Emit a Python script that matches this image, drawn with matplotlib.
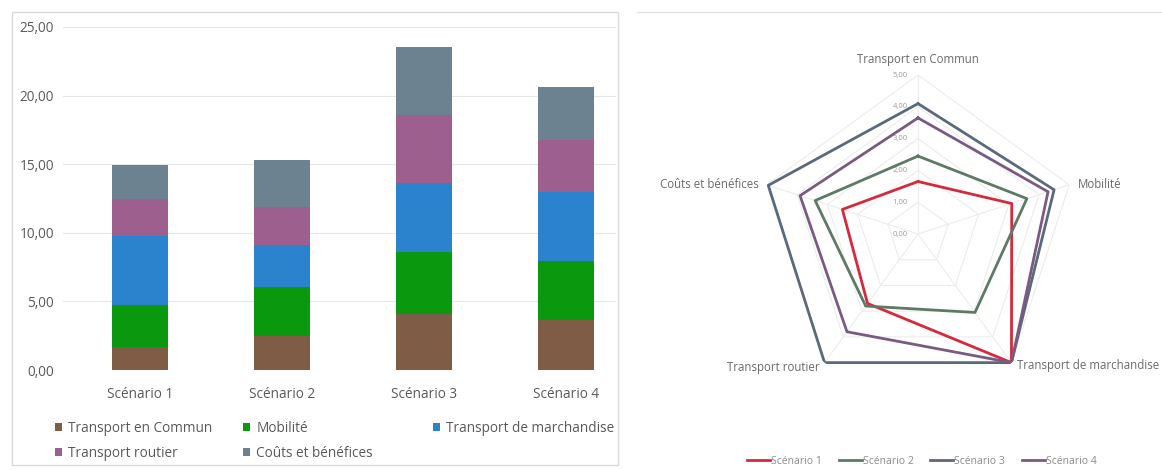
import matplotlib
matplotlib.use("Agg")
import matplotlib.pyplot as plt
import numpy as np
from matplotlib.patches import Rectangle
from matplotlib.lines import Line2D
from matplotlib.ticker import FuncFormatter

plt.rcParams['font.family'] = ['Open Sans', 'DejaVu Sans']

scenarios = ["Scénario 1", "Scénario 2", "Scénario 3", "Scénario 4"]
criteria = ["Transport en Commun", "Mobilité", "Transport de marchandise",
            "Transport routier", "Coûts et bénéfices"]
transport_commun = [1.65, 2.45, 4.10, 3.65]
mobilite = [3.10, 3.60, 4.50, 4.30]
marchandise = [5.00, 3.05, 5.00, 5.00]
routier = [2.70, 2.80, 5.00, 3.80]
couts = [2.50, 3.40, 4.95, 3.90]
y_ticks = [0, 5, 10, 15, 20, 25]
radar_ticks = [0, 1, 2, 3, 4, 5]

bar_colors = ["#7e5c45", "#0a980f", "#2a83cc", "#9c5f8e", "#6c8290"]
radar_colors = ["#d42a3c", "#5d7a66", "#5a6a7a", "#7a5a82"]
text_color = "#595959"

W, H = 1162, 470
fig = plt.figure(figsize=(W / 100, H / 100), dpi=100)


def fx(px):
    return px / W


def fy(py):
    return 1 - py / H


# chart frames
fig.add_artist(Rectangle((fx(12), fy(465)), fx(618) - fx(12), fy(12) - fy(465),
                         transform=fig.transFigure, fill=False,
                         edgecolor="#dadada", lw=1))
fig.add_artist(Line2D([fx(637), 1], [fy(12), fy(12)], transform=fig.transFigure,
                      color="#e3e3e3", lw=1))

# ---------------- stacked bar chart ----------------
ax = fig.add_axes([fx(63), fy(370), fx(616) - fx(63), fy(27) - fy(370)])
series = [transport_commun, mobilite, marchandise, routier, couts]
x = np.arange(len(scenarios))
bottom = np.zeros(len(scenarios))
bars = []
for vals, c, name in zip(series, bar_colors, criteria):
    b = ax.bar(x, vals, 0.4, bottom=bottom, color=c, label=name, zorder=3)
    bars.append(b)
    bottom += np.array(vals)

ax.set_xlim(-0.542, 3.352)
ax.set_ylim(0, 25)
ax.set_yticks(y_ticks)
ax.yaxis.set_major_formatter(FuncFormatter(lambda v, _: f"{v:.2f}".replace('.', ',')))
ax.set_xticks(x)
ax.set_xticklabels(scenarios)
ax.tick_params(axis='both', length=0, colors=text_color, labelsize=9.8)
ax.tick_params(axis='y', pad=6.5)
ax.tick_params(axis='x', pad=12)
ax.grid(axis='y', color="#e6e6e6", lw=0.8, zorder=0)
for s in ax.spines.values():
    s.set_visible(False)

# legend: three evenly spaced columns (Excel layout)
columns = [[0, 3], [1, 4], [2]]
col_x = [48, 236, 426]
legs = []
for cols, cx in zip(columns, col_x):
    lg = ax.legend([bars[i] for i in cols], [criteria[i] for i in cols],
                   ncol=1, loc='upper left', bbox_to_anchor=(fx(cx), fy(414)),
                   bbox_transform=fig.transFigure, frameon=False, fontsize=9.8,
                   handlelength=0.55, handleheight=0.55, handletextpad=0.45,
                   labelspacing=0.75, borderpad=0)
    for t in lg.get_texts():
        t.set_color(text_color)
    legs.append(lg)
for lg in legs[:-1]:
    ax.add_artist(lg)

# ---------------- radar chart ----------------
R = 159
rax = fig.add_axes([fx(918 - R), fy(234 + R), 2 * R / W, 2 * R / H], projection='polar')
rax.set_theta_offset(np.pi / 2)
rax.set_theta_direction(-1)
rax.set_ylim(0, 5)
rax.grid(False)
rax.set_xticks([])
rax.set_yticks([])
rax.spines['polar'].set_visible(False)
rax.patch.set_alpha(0)

angles = np.linspace(0, 2 * np.pi, len(criteria), endpoint=False)
ang_closed = np.concatenate([angles, angles[:1]])
for r in radar_ticks[1:]:
    rax.plot(ang_closed, [r] * len(ang_closed), color="#ececec", lw=0.8, zorder=1)
for a in angles:
    rax.plot([a, a], [0, radar_ticks[-1]], color="#ececec", lw=0.8, zorder=1)

for r in radar_ticks:
    rax.annotate(f"{r:.2f}".replace('.', ','), xy=(0, r), xytext=(-18, 0),
                 textcoords='offset pixels', ha='center', va='center',
                 fontsize=5.5, color="#9a9a9a")

lines = []
for i, name in enumerate(scenarios):
    vals = [transport_commun[i], mobilite[i], marchandise[i], routier[i], couts[i]]
    vals = vals + vals[:1]
    ln, = rax.plot(ang_closed, vals, color=radar_colors[i], lw=2.0, zorder=3)
    lines.append(ln)

lab_cfg = [
    (5.5, 'center', 'center', (0, 0)),
    (5.0, 'left', 'center', (9, 0)),
    (5.0, 'left', 'center', (6, -3)),
    (5.0, 'right', 'center', (-5, -5)),
    (5.0, 'right', 'center', (-8, 0)),
]
for a, name, (r, ha, va, off) in zip(angles, criteria, lab_cfg):
    rax.annotate(name, xy=(a, r), xytext=off, textcoords='offset pixels',
                 ha=ha, va=va, fontsize=8.3, color="#6a6a6a", annotation_clip=False)

rleg = fig.legend(lines, scenarios, loc='center', bbox_to_anchor=(fx(922), fy(461)),
                  ncol=4, frameon=False, fontsize=7.5, handlelength=2.2,
                  handletextpad=0.1, columnspacing=1.6, borderpad=0)
for t in rleg.get_texts():
    t.set_color("#8a8a8a")

fig.savefig("out.png", dpi=100)
